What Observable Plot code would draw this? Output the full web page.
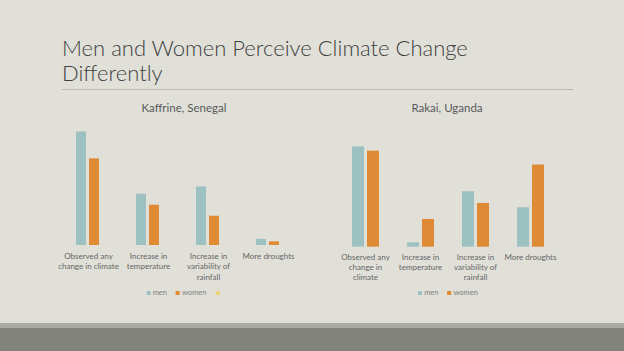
<!DOCTYPE html>
<html>
<head>
<meta charset="utf-8">
<script src="https://cdn.jsdelivr.net/npm/d3@7"></script>
<script src="https://cdn.jsdelivr.net/npm/@observablehq/plot@0.6"></script>
<style>
  html, body { margin: 0; padding: 0; }
  body { width: 624px; height: 351px; overflow: hidden; background: #e0e0d9; font-family: Lato, "Open Sans", sans-serif; }
  #slide { position: relative; width: 624px; height: 351px; }
  .abs { position: absolute; }
  #title { left: 62px; top: 35px; font-size: 22px; line-height: 25px; font-weight: 300; color: #404040; white-space: nowrap; }
  #rule { left: 62px; top: 89px; width: 511px; height: 1px; background: #b9b9b2; }
  #band1 { left: 0; top: 323px; width: 624px; height: 5px; background: #a9aaa2; }
  #band2 { left: 0; top: 328px; width: 624px; height: 23px; background: #818279; }
  .sub { font-size: 11.5px; color: #595959; transform: translateX(-50%); white-space: nowrap; }
  .legend { display: flex; gap: 9px; transform: translateX(-50%); font-size: 7.5px; color: #7f7f7f; white-space: nowrap; align-items: center; }
  .legend .item { display: flex; align-items: center; gap: 2px; }
  .legend .sw { width: 4px; height: 4px; display: inline-block; }
</style>
</head>
<body>
<div id="slide">
  <div id="title" class="abs">Men and Women Perceive Climate Change<br>Differently</div>
  <div id="rule" class="abs"></div>
  <div id="sub1" class="abs sub" style="left:184px; top:101px;">Kaffrine, Senegal</div>
  <div id="sub2" class="abs sub" style="left:447px; top:101px;">Rakai, Uganda</div>
  <div id="chart1" class="abs" style="left:58px; top:118px;"></div>
  <div id="chart2" class="abs" style="left:337.5px; top:135px;"></div>
  <div id="legend1" class="abs legend" style="left:184px; top:288px;"></div>
  <div id="legend2" class="abs legend" style="left:448px; top:288px;"></div>
  <div id="band1" class="abs"></div>
  <div id="band2" class="abs"></div>
</div>
<script>
// ---- data ----
const categories = ["Observed any change in climate", "Increase in temperature", "Increase in variability of rainfall", "More droughts"];
const series = ["men", "women"];
const colors = ["#9dc1c1", "#df8a34"];
const extraSwatchColor = "#eed27a";

// Kaffrine, Senegal (%)
const kaffrineMen   = [93, 42, 48, 5];
const kaffrineWomen = [71, 33, 24, 3];
// Rakai, Uganda (%)
const rakaiMen   = [94, 4, 52, 37];
const rakaiWomen = [90, 26, 41, 77];

const kaffrineTickLabels = ["Observed any\nchange in climate", "Increase in\ntemperature", "Increase in\nvariability of\nrainfall", "More droughts"];
const rakaiTickLabels = ["Observed any\nchange in\nclimate", "Increase in\ntemperature", "Increase in\nvariability of\nrainfall", "More droughts"];

function rows(menVals, womenVals) {
  const out = [];
  categories.forEach((c, i) => {
    out.push({category: c, series: "men", value: menVals[i]});
    out.push({category: c, series: "women", value: womenVals[i]});
  });
  return out;
}

function chart({data, labels, width, plotHeight, pIn, pOut, pad}) {
  return Plot.plot({
    width,
    height: 5 + plotHeight + 45,
    marginLeft: 0, marginRight: 0, marginTop: 5, marginBottom: 45,
    style: {background: "transparent", fontFamily: "Lato, 'Open Sans', sans-serif", overflow: "visible"},
    fx: {domain: categories, paddingInner: pIn, paddingOuter: pOut, label: null, axis: null},
    x: {domain: series, paddingInner: 0.2, paddingOuter: 0, axis: null},
    y: {domain: [0, 100], axis: null},
    color: {domain: series, range: colors},
    marks: [
      Plot.barY(data, {fx: "category", x: "series", y: "value", fill: "series"}),
      Plot.axisFx({
        anchor: "bottom", tickSize: 0, tickPadding: pad, fontSize: 8, lineHeight: 1.3,
        fill: "#666", label: null,
        tickFormat: d => labels[categories.indexOf(d)]
      })
    ]
  });
}

document.getElementById("chart1").appendChild(chart({
  data: rows(kaffrineMen, kaffrineWomen), labels: kaffrineTickLabels,
  width: 240, plotHeight: 122, pIn: 0.6, pOut: 0.3, pad: 6
}));
document.getElementById("chart2").appendChild(chart({
  data: rows(rakaiMen, rakaiWomen), labels: rakaiTickLabels,
  width: 220, plotHeight: 106.7, pIn: 0.485, pOut: 0.2425, pad: 5
}));

function legend(el, items) {
  items.forEach(([label, color]) => {
    const it = document.createElement("span");
    it.className = "item";
    const sw = document.createElement("span");
    sw.className = "sw";
    sw.style.background = color;
    it.appendChild(sw);
    const t = document.createElement("span");
    t.textContent = label;
    it.appendChild(t);
    el.appendChild(it);
  });
}
legend(document.getElementById("legend1"), [[series[0], colors[0]], [series[1], colors[1]], ["", extraSwatchColor]]);
legend(document.getElementById("legend2"), [[series[0], colors[0]], [series[1], colors[1]]]);
</script>
</body>
</html>
